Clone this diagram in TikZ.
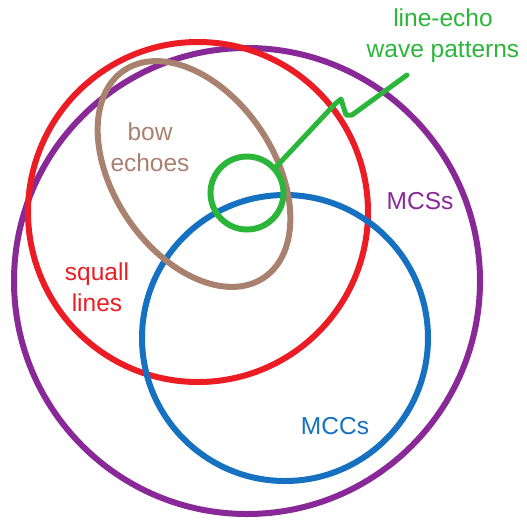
\documentclass[tikz,border=0pt]{standalone}
\usepackage{fontspec}
\setmainfont{Liberation Sans}
\definecolor{cpurple}{RGB}{137,41,151}
\definecolor{cred}{RGB}{236,28,36}
\definecolor{cblue}{RGB}{22,114,192}
\definecolor{cbrown}{RGB}{169,129,111}
\definecolor{cgreen}{RGB}{43,182,58}
\begin{document}
\begin{tikzpicture}[x=1pt,y=-1pt,
  ring/.style={draw,circle,inner sep=0pt,line width=6pt},
  lbl/.style={inner sep=0pt,align=center,font=\fontsize{24.5}{31}\selectfont}]
\useasboundingbox (0,0) rectangle (527,520);
\node[ring,draw=cpurple,minimum size=466pt] (mcs) at (247,281) {};
\node[ring,draw=cred,minimum size=340pt] (sq) at (198,212) {};
\node[ring,draw=cblue,minimum size=286pt] (mcc) at (285,338) {};
\draw[cbrown,line width=6pt,rotate around={-56:(194,174)}] (194,174) ellipse [x radius=125, y radius=80];
\node[ring,draw=cgreen,minimum size=73pt] (lew) at (247,193) {};
\coordinate (z1) at (335,104);
\coordinate (z2) at (341,99);
\coordinate (z3) at (346,115);
\coordinate (z4) at (352,115);
\coordinate (zend) at (407,75);
\draw[cgreen,line width=5pt,line join=round,line cap=round] (lew.42) -- (z1) -- (z2) -- (z3) -- (z4) -- (zend);
\node[lbl,text=cgreen] (tlew) at (443,36) {line-echo\\wave patterns};
\node[lbl,text=cpurple] (tmcs) at (420,201.5) {MCSs};
\node[lbl,text=cblue] (tmcc) at (335,426.5) {MCCs};
\node[lbl,text=cred] (tsq) at (97,287) {squall\\lines};
\node[lbl,text=cbrown] (tbow) at (150,147.5) {bow\\echoes};
\end{tikzpicture}
\end{document}
